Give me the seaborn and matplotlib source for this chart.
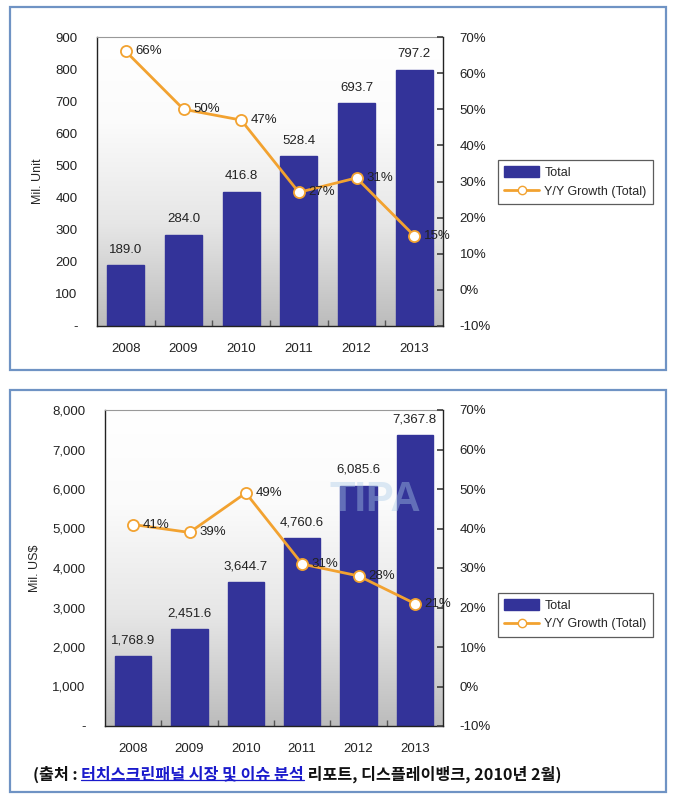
import numpy as np
import pandas as pd
import matplotlib
matplotlib.use("Agg")
import matplotlib.pyplot as plt
import seaborn as sns
from matplotlib.patches import Rectangle, Patch
from matplotlib.lines import Line2D
from matplotlib.ticker import FuncFormatter, MultipleLocator, FixedLocator

years = ["2008", "2009", "2010", "2011", "2012", "2013"]
units = [189.0, 284.0, 416.8, 528.4, 693.7, 797.2]
units_growth = [66, 50, 47, 27, 31, 15]
revenue = [1768.9, 2451.6, 3644.7, 4760.6, 6085.6, 7367.8]
revenue_growth = [41, 39, 49, 31, 28, 21]
legend_labels = ["Total", "Y/Y Growth (Total)"]
ylabels = ["Mil. Unit", "Mil. US$"]

sns.set_theme(style="white")
plt.rcParams['font.family'] = ['Liberation Sans', 'DejaVu Sans']

BAR = "#333399"
LINE = "#f2a230"
W, H = 675, 801
fig = plt.figure(figsize=(W / 100, H / 100), dpi=100)
fig.patch.set_facecolor("white")


def fx(px):
    return px / W


def fy(py):
    return 1 - py / H


# panel frames
for (x0, y0, x1, y1) in [(10, 7, 666, 370), (10, 390, 666, 792)]:
    fig.patches.append(Rectangle((fx(x0), fy(y1)), fx(x1) - fx(x0), fy(y0) - fy(y1),
                                 transform=fig.transFigure, fill=False,
                                 edgecolor="#6f93c4", linewidth=1.6, zorder=0))


def panel(rect, values, growth, ymax, ystep, ylabel, fmt_tick, fmt_bar, legend_top, watermark=False):
    ax = fig.add_axes(rect)
    df = pd.DataFrame({"year": years, "value": values})
    # gradient background: white at top, grey at bottom
    grad = np.linspace(0, 1, 256).reshape(-1, 1)
    cmap = matplotlib.colors.LinearSegmentedColormap.from_list(
        "g", [(0, "#ffffff"), (0.3, "#fbfbfb"), (0.65, "#e6e6e6"), (1, "#bcbcbc")])
    ax.imshow(grad, cmap=cmap, aspect="auto", extent=[-0.5, len(years) - 0.5, 0, ymax],
              zorder=0, origin="upper", vmin=0, vmax=1)
    sns.barplot(data=df, x="year", y="value", color=BAR, width=0.64, ax=ax,
                saturation=1, zorder=2, edgecolor=BAR)
    ax.set_xlim(-0.5, len(years) - 0.5)
    ax.set_ylim(0, ymax)
    ax.yaxis.set_major_locator(MultipleLocator(ystep))
    ax.yaxis.set_major_formatter(FuncFormatter(lambda v, p: "-" if v == 0 else fmt_tick(v)))
    ax.set_xlabel("")
    ax.set_ylabel(ylabel, fontsize=9, labelpad=8)
    ax.tick_params(axis="y", labelsize=9.5, colors="#222222", length=0, pad=14)
    ax.tick_params(axis="x", labelsize=9.5, colors="#222222", length=0, pad=12)
    ax.xaxis.set_minor_locator(FixedLocator(np.arange(0.5, len(years) - 1, 1.0)))
    ax.tick_params(axis="x", which="minor", direction="in", length=4, color="#555555", bottom=True)
    for s in ["left", "bottom"]:
        ax.spines[s].set_color("#222222")
        ax.spines[s].set_linewidth(1.0)
    ax.spines["top"].set_color("#999999")
    ax.spines["top"].set_linewidth(0.8)
    ax.spines["right"].set_visible(False)
    labels = [fmt_bar(v) for v in values]
    ax.bar_label(ax.containers[0], labels=labels, padding=7, fontsize=9.5, color="#222222")
    if watermark:
        ax.text(0.80, 0.715, "TIPA", transform=ax.transAxes, fontsize=30, fontweight="bold",
                color="#a9cbe8", alpha=0.4, ha="center", va="center", zorder=3)

    ax2 = ax.twinx()
    ax2.set_ylim(-10, 70)
    ax2.yaxis.set_major_locator(MultipleLocator(10))
    ax2.yaxis.set_major_formatter(FuncFormatter(lambda v, p: f"{v:.0f}%"))
    ax2.tick_params(axis="y", labelsize=9.5, colors="#222222", direction="in", length=4, pad=12)
    ax2.tick_params(axis="y", color="#444444")
    for s in ["left", "top", "bottom"]:
        ax2.spines[s].set_visible(False)
    ax2.spines["right"].set_color("#222222")
    ax2.spines["right"].set_linewidth(1.0)
    xs = np.arange(len(years))
    sns.lineplot(x=xs, y=growth, ax=ax2, color=LINE, linewidth=2, marker="o",
                 markersize=8, markerfacecolor="white", markeredgecolor=LINE,
                 markeredgewidth=1.3, zorder=5)
    for xv, g in zip(xs, growth):
        ax2.annotate(f"{g}%", (xv, g), xytext=(7, 0), textcoords="offset points",
                     fontsize=9.5, color="#222222", va="center", ha="left", zorder=6)
    ax2.set_xlim(-0.5, len(years) - 0.5)

    handles = [Patch(facecolor=BAR, edgecolor=BAR),
               Line2D([0], [0], color=LINE, linewidth=2, marker="o", markersize=6,
                      markerfacecolor="white", markeredgecolor=LINE)]
    leg = fig.legend(handles, legend_labels, loc="upper left",
                     bbox_to_anchor=(fx(498), legend_top), frameon=True, fancybox=False,
                     fontsize=9, handlelength=2.8, handleheight=0.9, borderpad=0.5,
                     labelspacing=0.5, handletextpad=0.4, borderaxespad=0)
    leg.get_frame().set_edgecolor("#333333")
    leg.get_frame().set_linewidth(0.9)
    return ax, ax2


panel([fx(97), fy(326), fx(443) - fx(97), fy(37) - fy(326)], units, units_growth, 900, 100,
      ylabels[0], lambda v: f"{v:.0f}", lambda v: f"{v:.1f}", fy(160))
panel([fx(105), fy(726), fx(443) - fx(105), fy(410) - fy(726)], revenue, revenue_growth, 8000, 1000,
      ylabels[1], lambda v: f"{v:,.0f}", lambda v: f"{v:,.1f}", fy(593), watermark=True)

# caption
cap_parts = [("(출처 : ", "#111111", False),
             ("터치스크린패널 시장 및 이슈 분석", "#1a1acc", True),
             (" 리포트, 디스플레이뱅크, 2010년 2월)", "#111111", False)]
fig.canvas.draw()
renderer = fig.canvas.get_renderer()
xcur = fx(33)
ycap = fy(774)
for txt, col, ul in cap_parts:
    t = fig.text(xcur, ycap, txt, fontsize=11.6, color=col, fontweight="bold",
                 family=["Noto Sans CJK KR", "DejaVu Sans"], va="center", ha="left")
    bb = t.get_window_extent(renderer=renderer).transformed(fig.transFigure.inverted())
    if ul:
        fig.add_artist(Line2D([bb.x0, bb.x1], [bb.y0 + 0.002, bb.y0 + 0.002],
                              transform=fig.transFigure, color=col, linewidth=0.9))
    xcur = bb.x1

fig.savefig("out.png", dpi=100)
